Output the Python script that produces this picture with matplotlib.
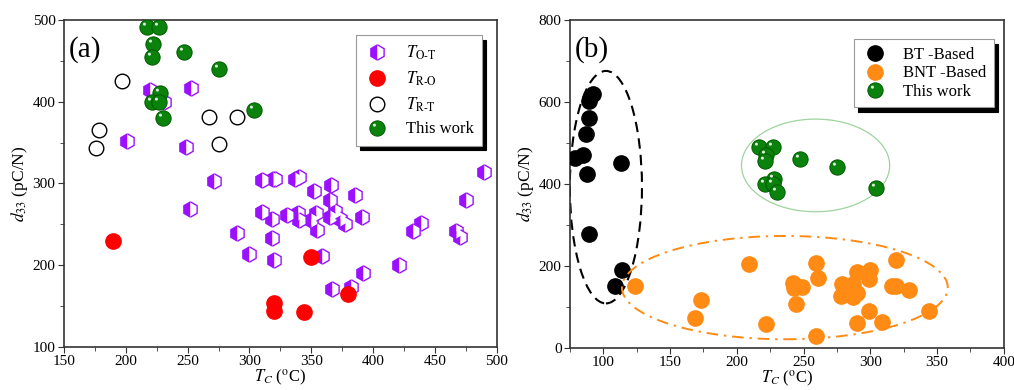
import matplotlib
matplotlib.use("Agg")
import matplotlib.pyplot as plt
from matplotlib.patches import Ellipse
from matplotlib.path import Path
from matplotlib.ticker import MultipleLocator

plt.rcParams["font.family"] = "serif"
plt.rcParams["font.serif"] = ["Liberation Serif", "DejaVu Serif"]
plt.rcParams["mathtext.fontset"] = "stix"

# ---- (a) d33 versus transition temperature ----
tot_T = [220, 253, 231, 201, 249, 271, 252, 310, 319, 310, 318, 290, 318, 300, 320,
         321, 337, 340, 352, 366, 365, 385, 330, 339, 340, 350, 354, 355, 365, 369,
         373, 377, 391, 359, 392, 367, 382, 421, 432, 439, 467, 470, 475, 490]
tot_d = [414, 417, 400, 352, 345, 303, 269, 304, 305, 265, 256, 239, 233, 214, 206,
         306, 306, 308, 291, 298, 280, 286, 262, 264, 255, 255, 264, 243, 259, 266,
         256, 251, 259, 211, 190, 171, 173, 200, 242, 252, 242, 234, 280, 314]

tro_T = [190, 350, 380, 320, 320, 344]
tro_d = [230, 210, 165, 154, 144, 143]

trt_T = [197, 178, 176, 267, 290, 275]
trt_d = [425, 366, 344, 381, 381, 348]

work_T = [217, 227, 222, 221, 247, 275, 228, 221, 227, 230, 304]
work_d = [491, 491, 471, 455, 461, 440, 411, 400, 400, 380, 390]

# ---- (b) BT-based and BNT-based ceramics ----
bt_T = [92, 89, 89, 87, 85, 79, 88, 113, 89, 114, 109]
bt_d = [620, 601, 560, 521, 470, 463, 424, 450, 278, 190, 150]

bnt_T = [124, 173, 169, 209, 222, 242, 243, 249, 244, 259, 261, 259, 279, 287, 278,
         287, 282, 290, 290, 300, 299, 299, 290, 309, 319, 316, 319, 329, 344]
bnt_d = [150, 117, 72, 205, 58, 159, 146, 148, 107, 208, 170, 29, 156, 156, 127,
         125, 142, 135, 186, 190, 168, 89, 60, 64, 215, 151, 150, 142, 91]

PURPLE = "#9a10ff"
ORANGE = "#ff8a14"
HIGHLIGHT = Path.circle((-0.2, 0.22), 0.1)


def spheres(ax, x, y, ms=11):
    base = ax.plot(x, y, "o", ms=ms, mfc="#0b820b", mec="#005a00", mew=0.7,
                   ls="none", zorder=4)[0]
    hl = ax.plot(x, y, marker=HIGHLIGHT, ms=ms * 0.64, mfc="white", mec="none",
                 alpha=0.85, ls="none", zorder=5)[0]
    return (base, hl)


def style_axes(ax):
    for s in ax.spines.values():
        s.set_linewidth(1.2)
        s.set_color("#333333")
    ax.tick_params(which="both", direction="out", top=False, right=False,
                   labelsize=11, color="#333333", pad=1.5)
    ax.tick_params(which="major", length=4.5)
    ax.tick_params(which="minor", length=3)


fig = plt.figure(figsize=(10.14, 3.9), dpi=100)
ax1 = fig.add_axes([0.063, 0.110, 0.427, 0.839])
ax2 = fig.add_axes([0.562, 0.108, 0.428, 0.841])

# panel (a)
h_ot = ax1.plot(tot_T, tot_d, "h", ms=11, fillstyle="left", mfc=PURPLE,
                mfcalt="white", mec=PURPLE, mew=1, ls="none", zorder=2)[0]
h_ro = ax1.plot(tro_T, tro_d, "o", ms=11, mfc="#ff0000", mec="#ff0000",
                ls="none", zorder=3)[0]
h_rt = ax1.plot(trt_T, trt_d, "o", ms=10.5, mfc="white", mec="black", mew=1,
                ls="none", zorder=3)[0]
h_w1 = spheres(ax1, work_T, work_d)

ax1.set_xlim(150, 500)
ax1.set_ylim(100, 500)
ax1.xaxis.set_major_locator(MultipleLocator(50))
ax1.xaxis.set_minor_locator(MultipleLocator(25))
ax1.yaxis.set_major_locator(MultipleLocator(100))
ax1.yaxis.set_minor_locator(MultipleLocator(50))
style_axes(ax1)
ax1.set_xlabel(r"$T_C$ ($^{\rm o}$C)", fontsize=12, labelpad=0)
ax1.set_ylabel(r"$d_{33}$ (pC/N)", fontsize=12.5, labelpad=2)
ax1.text(0.012, 0.91, "(a)", transform=ax1.transAxes, fontsize=21, va="center")

leg1 = ax1.legend([h_ot, h_ro, h_rt, h_w1],
                  [r"$T_{\mathrm{O\text{-}T}}$", r"$T_{\mathrm{R\text{-}O}}$",
                   r"$T_{\mathrm{R\text{-}T}}$", "This work"],
                  loc="upper left", bbox_to_anchor=(0.655, 0.978), fontsize=12,
                  frameon=True, fancybox=False, edgecolor="#999999",
                  shadow={"color": "black", "alpha": 1, "ox": 3, "oy": -3},
                  labelspacing=0.45, handletextpad=0.9, borderpad=0.5,
                  handlelength=1.6)
leg1.get_frame().set_linewidth(0.8)

# panel (b)
ax2.add_patch(Ellipse((102, 392), 54, 567, fill=False, ec="black", lw=1.5,
                      ls=(0, (5, 3)), zorder=1))
ax2.add_patch(Ellipse((236, 147), 244, 252, fill=False, ec=ORANGE, lw=1.4,
                      ls=(0, (6, 3, 1.2, 3)), zorder=6))
ax2.add_patch(Ellipse((259, 445), 111, 226, fill=False, ec="#9fd39f", lw=0.9,
                      zorder=1))

h_bt = ax2.plot(bt_T, bt_d, "o", ms=11, mfc="black", mec="black", ls="none",
                zorder=3)[0]
h_bnt = ax2.plot(bnt_T, bnt_d, "o", ms=11, mfc=ORANGE, mec=ORANGE, ls="none",
                 zorder=3)[0]
h_w2 = spheres(ax2, work_T, work_d)

ax2.set_xlim(75, 400)
ax2.set_ylim(0, 800)
ax2.xaxis.set_major_locator(MultipleLocator(50))
ax2.xaxis.set_minor_locator(MultipleLocator(25))
ax2.yaxis.set_major_locator(MultipleLocator(200))
ax2.yaxis.set_minor_locator(MultipleLocator(100))
style_axes(ax2)
ax2.set_xlabel(r"$T_C$ ($^{\rm o}$C)", fontsize=12, labelpad=0)
ax2.set_ylabel(r"$d_{33}$ (pC/N)", fontsize=12.5, labelpad=2)
ax2.text(0.012, 0.91, "(b)", transform=ax2.transAxes, fontsize=21, va="center")

leg2 = ax2.legend([h_bt, h_bnt, h_w2], ["BT -Based", "BNT -Based", "This work"],
                  loc="upper left", bbox_to_anchor=(0.636, 0.966), fontsize=12,
                  frameon=True, fancybox=False, edgecolor="#999999",
                  shadow={"color": "black", "alpha": 1, "ox": 3, "oy": -3},
                  labelspacing=0.15, handletextpad=0.9, borderpad=0.45,
                  handlelength=1.6)
leg2.get_frame().set_linewidth(0.8)

fig.savefig("out.png", dpi=100)
